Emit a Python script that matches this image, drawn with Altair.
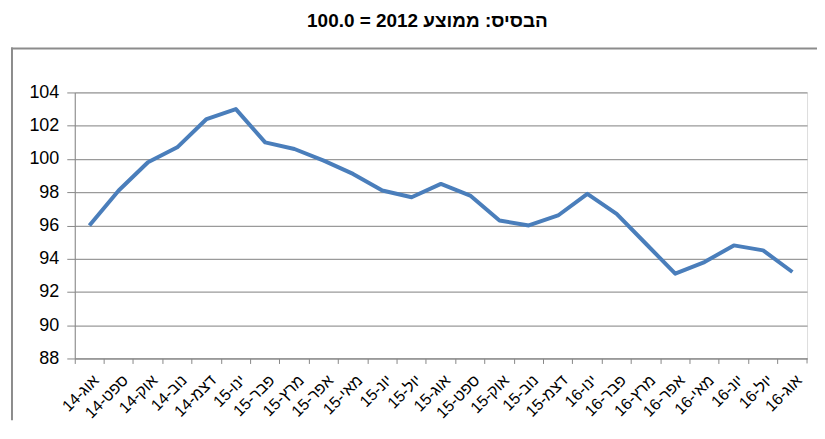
import altair as alt
import pandas as pd

months = ["אוג-14", "ספט-14", "אוק-14", "נוב-14", "דצמ-14", "ינו-15", "פבר-15",
          "מרץ-15", "אפר-15", "מאי-15", "יונ-15", "יול-15", "אוג-15", "ספט-15",
          "אוק-15", "נוב-15", "דצמ-15", "ינו-16", "פבר-16", "מרץ-16", "אפר-16",
          "מאי-16", "יונ-16", "יול-16", "אוג-16"]
values = [96.0, 98.1, 99.8, 100.7, 102.4, 103.0, 101.0, 100.6, 99.9, 99.1,
          98.1, 97.7, 98.5, 97.8, 96.3, 96.0, 96.6, 97.9, 96.7, 94.9,
          93.1, 93.8, 94.8, 94.5, 93.2]
y_ticks = [88, 90, 92, 94, 96, 98, 100, 102, 104]
title_text = ["הבסיס: ממוצע 2012 = 100.0"]

df = pd.DataFrame({"month": months, "value": values})
tdf = pd.DataFrame({"t": title_text})

W, H = 735, 267
PAD_R, PAD_B = 10, 62
FONT = "Liberation Sans"

x_enc = alt.X("month:N", sort=months,
              scale=alt.Scale(type="band", paddingInner=0, paddingOuter=0),
              axis=alt.Axis(title=None, labelAngle=-45, labelAlign="right",
                            labelBaseline="middle", labelFontSize=16,
                            labelFont=FONT, labelColor="#000000",
                            bandPosition=0, grid=False, tickSize=5,
                            tickColor="#888888", domainColor="#888888",
                            labelPadding=14, labelOffset=7, labelBound=False))
y_enc = alt.Y("value:Q",
              scale=alt.Scale(domain=[88, 104], nice=False, zero=False),
              axis=alt.Axis(title=None, values=y_ticks, grid=True,
                            gridColor="#9a9a9a", gridWidth=1.2,
                            tickSize=8, tickColor="#888888",
                            domainColor="#888888", labelFontSize=18,
                            labelFont=FONT, labelColor="#000000",
                            labelPadding=8))

line = alt.Chart(df).mark_line(color="#4A7EBB", strokeWidth=4,
                               strokeJoin="round").encode(x=x_enc, y=y_enc)

title = alt.Chart(tdf).mark_text(font=FONT, fontSize=19, fontWeight="bold",
                                 color="#000000", align="center",
                                 baseline="middle", clip=False).encode(
    text="t:N", x=alt.value(354), y=alt.value(-72))

border_top = alt.Chart(tdf).mark_rect(color="#8c8c8c", clip=False).encode(
    x=alt.value(-64), x2=alt.value(W + PAD_R), y=alt.value(-45), y2=alt.value(-43))
border_left = alt.Chart(tdf).mark_rect(color="#8c8c8c", clip=False).encode(
    x=alt.value(-64), x2=alt.value(-62), y=alt.value(-45), y2=alt.value(H + PAD_B))
end_tick = alt.Chart(tdf).mark_rule(color="#888888", strokeWidth=1).encode(
    x=alt.value(W), y=alt.value(H), y2=alt.value(H + 5))

chart = alt.layer(border_top, border_left, title, line, end_tick).properties(
    width=W, height=H,
    autosize=alt.AutoSizeParams(type="none"),
    padding={"left": 67, "top": 84, "right": PAD_R, "bottom": PAD_B},
).configure_view(stroke=None).configure(background="white")

chart.save("out.html", embed_options={"renderer": "svg", "actions": False})
